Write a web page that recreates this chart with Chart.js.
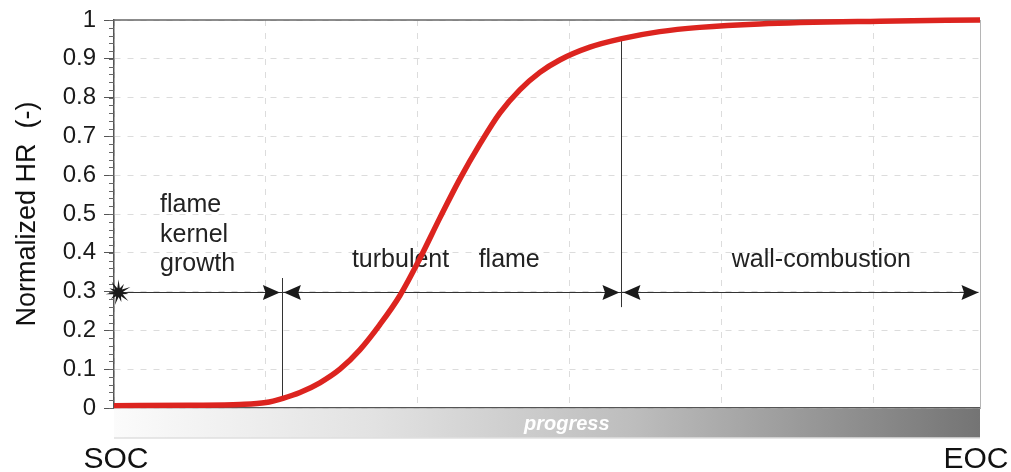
<!DOCTYPE html>
<html>
<head>
<meta charset="utf-8">
<script src="https://cdn.jsdelivr.net/npm/chart.js@4"></script>
<style>
  html, body { margin: 0; padding: 0; background: #fff; }
  #wrap { width: 1011px; height: 472px; }
</style>
</head>
<body>
<div id="wrap"><canvas id="hr-chart" width="1011" height="472"></canvas></div>
<script>
// combustion progress (arbitrary units, SOC = 0, EOC = 57) vs normalized heat release
const progressX = [0, 5, 8.29, 10, 11.12, 12.24, 13.55, 14.87, 16.18, 17.5, 18.82, 20.13, 21.45, 22.76, 24.08, 25.39, 26.71, 28.03, 29.34, 31.32, 33.42, 35.92, 38.55, 42.5, 50.39, 57];
const hrValues = [0.006, 0.007, 0.009, 0.014, 0.025, 0.04, 0.065, 0.10, 0.15, 0.215, 0.29, 0.385, 0.49, 0.59, 0.68, 0.76, 0.82, 0.865, 0.897, 0.93, 0.952, 0.97, 0.981, 0.99, 0.997, 1.0];

const yTicks = [0, 0.1, 0.2, 0.3, 0.4, 0.5, 0.6, 0.7, 0.8, 0.9, 1];
const phaseBounds = [11.05, 33.4];          // flame kernel | turbulent | wall
const phaseMarkTop = [0.335, 0.95];
const phaseMarkBottom = [0.03, 0.26];
const arrowLevel = 0.3;
const xEnds = ['SOC', 'EOC'];

const FONT = "'Liberation Sans', Arial, sans-serif";

function arrowHead(ctx, tipX, y, dir) {
  const L = 17, W = 7.5;
  ctx.beginPath();
  ctx.moveTo(tipX, y);
  ctx.lineTo(tipX - dir * L, y - W);
  ctx.lineTo(tipX - dir * L * 0.85, y);
  ctx.lineTo(tipX - dir * L, y + W);
  ctx.closePath();
  ctx.fill();
}

function burst(ctx, cx, cy) {
  const n = 11;
  ctx.beginPath();
  for (let i = 0; i < n * 2; i++) {
    const r = i % 2 === 0 ? (i % 4 === 0 ? 13 : 10) : 4.5;
    const a = (Math.PI * i) / n - Math.PI / 2;
    const px = cx + r * Math.cos(a), py = cy + r * Math.sin(a);
    if (i === 0) ctx.moveTo(px, py); else ctx.lineTo(px, py);
  }
  ctx.closePath();
  ctx.fill();
}

const overlay = {
  id: 'overlay',
  beforeDatasetsDraw(chart) {
    const { ctx, chartArea: a, scales: { x, y } } = chart;
    ctx.save();
    // minor ticks on the y axis
    ctx.strokeStyle = '#666';
    ctx.lineWidth = 1;
    for (let v = 0; v <= 1.0001; v += 0.02) {
      const py = Math.round(y.getPixelForValue(v)) + 0.5;
      ctx.beginPath();
      ctx.moveTo(a.left - 5, py);
      ctx.lineTo(a.left, py);
      ctx.stroke();
    }
    // frame: top dark, right light
    ctx.strokeStyle = '#666';
    ctx.lineWidth = 1.5;
    ctx.beginPath();
    ctx.moveTo(a.left, a.top);
    ctx.lineTo(a.right, a.top);
    ctx.stroke();
    ctx.strokeStyle = '#b5b5b5';
    ctx.lineWidth = 1;
    ctx.beginPath();
    ctx.moveTo(a.right + 0.5, a.top);
    ctx.lineTo(a.right + 0.5, a.bottom);
    ctx.stroke();

    // phase boundary markers
    ctx.strokeStyle = '#333';
    ctx.lineWidth = 1;
    phaseBounds.forEach((b, i) => {
      const px = Math.round(x.getPixelForValue(b)) + 0.5;
      ctx.beginPath();
      ctx.moveTo(px, y.getPixelForValue(phaseMarkTop[i]));
      ctx.lineTo(px, y.getPixelForValue(phaseMarkBottom[i]));
      ctx.stroke();
    });

    // arrow line
    const ay = Math.round(y.getPixelForValue(arrowLevel)) + 0.5;
    ctx.beginPath();
    ctx.moveTo(x.getPixelForValue(0.25), ay);
    ctx.lineTo(x.getPixelForValue(56.9), ay);
    ctx.stroke();
    ctx.fillStyle = '#1a1a1a';
    const b1 = x.getPixelForValue(phaseBounds[0]);
    const b2 = x.getPixelForValue(phaseBounds[1]);
    arrowHead(ctx, b1 - 2, ay, 1);
    arrowHead(ctx, b1 + 2, ay, -1);
    arrowHead(ctx, b2 - 2, ay, 1);
    arrowHead(ctx, b2 + 2, ay, -1);
    arrowHead(ctx, x.getPixelForValue(56.9), ay, 1);
    burst(ctx, x.getPixelForValue(0.3), ay);

    // phase labels
    ctx.fillStyle = '#222';
    ctx.font = '25px ' + FONT;
    ctx.textAlign = 'left';
    ctx.textBaseline = 'alphabetic';
    ctx.fillText('flame', x.getPixelForValue(3.03), y.getPixelForValue(0.506));
    ctx.fillText('kernel', x.getPixelForValue(3.03), y.getPixelForValue(0.429));
    ctx.fillText('growth', x.getPixelForValue(3.03), y.getPixelForValue(0.354));
    ctx.fillText('turbulent', x.getPixelForValue(15.66), y.getPixelForValue(0.363));
    ctx.fillText('flame', x.getPixelForValue(24.0), y.getPixelForValue(0.363));
    ctx.fillText('wall-combustion', x.getPixelForValue(40.66), y.getPixelForValue(0.363));
    ctx.restore();
  },
  afterDraw(chart) {
    const { ctx, chartArea: a, scales: { x } } = chart;
    ctx.save();
    // progress bar under the plot
    const top = a.bottom + 0.5, h = 29;
    const g = ctx.createLinearGradient(a.left, 0, a.right, 0);
    g.addColorStop(0, '#fbfbfb');
    g.addColorStop(0.3, '#e2e2e2');
    g.addColorStop(0.6, '#bdbdbd');
    g.addColorStop(1, '#747474');
    ctx.fillStyle = g;
    ctx.fillRect(a.left, top, a.right - a.left, h);
    ctx.strokeStyle = '#cfcfcf';
    ctx.lineWidth = 1;
    ctx.beginPath();
    ctx.moveTo(a.left, top + h + 0.5);
    ctx.lineTo(a.right, top + h + 0.5);
    ctx.stroke();
    ctx.fillStyle = '#fff';
    ctx.font = 'italic bold 20px ' + FONT;
    ctx.textAlign = 'center';
    ctx.textBaseline = 'middle';
    ctx.fillText('progress', x.getPixelForValue(29.8), top + h / 2 + 1);

    // start / end of combustion
    ctx.fillStyle = '#111';
    ctx.font = '30px ' + FONT;
    ctx.textBaseline = 'alphabetic';
    ctx.fillText(xEnds[0], x.getPixelForValue(0) + 2, 468);
    ctx.fillText(xEnds[1], x.getPixelForValue(57) - 4, 468);
    ctx.restore();
  }
};

new Chart(document.getElementById('hr-chart'), {
  type: 'line',
  data: {
    datasets: [{
      data: progressX.map((v, i) => ({ x: v, y: hrValues[i] })),
      borderColor: '#dc241f',
      borderWidth: 5.5,
      pointRadius: 0,
      cubicInterpolationMode: 'monotone',
      clip: false,
      fill: false,
    }],
  },
  options: {
    responsive: false,
    animation: false,
    layout: { padding: { top: 20, right: 31, bottom: 0, left: 0 } },
    plugins: { legend: { display: false }, tooltip: { enabled: false } },
    scales: {
      x: {
        type: 'linear',
        min: 0,
        max: 57,
        ticks: { display: false, stepSize: 10 },
        grid: { color: '#dcdcdc', drawTicks: false, lineWidth: 1 },
        border: { color: '#555', width: 1.5, dash: [6, 7] },
        afterFit: (s) => { s.height = 64; s.paddingLeft = 0; s.paddingRight = 0; },
      },
      y: {
        min: 0,
        max: 1,
        afterBuildTicks: (s) => { s.ticks = yTicks.map((v) => ({ value: v })); },
        ticks: {
          color: '#1a1a1a',
          font: { family: FONT, size: 24 },
          padding: 8,
          callback: (v) => (v === 0 || v === 1 ? String(v) : v.toFixed(1)),
        },
        grid: { color: '#dcdcdc', tickColor: '#555', tickLength: 10, lineWidth: 1 },
        border: { color: '#555', width: 1.5, dash: [6, 7] },
        title: {
          display: true,
          text: 'Normalized HR  (-)',
          color: '#111',
          font: { family: FONT, size: 27 },
          padding: { top: 11, bottom: 0 },
        },
        afterFit: (s) => { s.width = 114; s.paddingTop = 0; s.paddingBottom = 0; },
      },
    },
  },
  plugins: [overlay],
});
</script>
</body>
</html>
